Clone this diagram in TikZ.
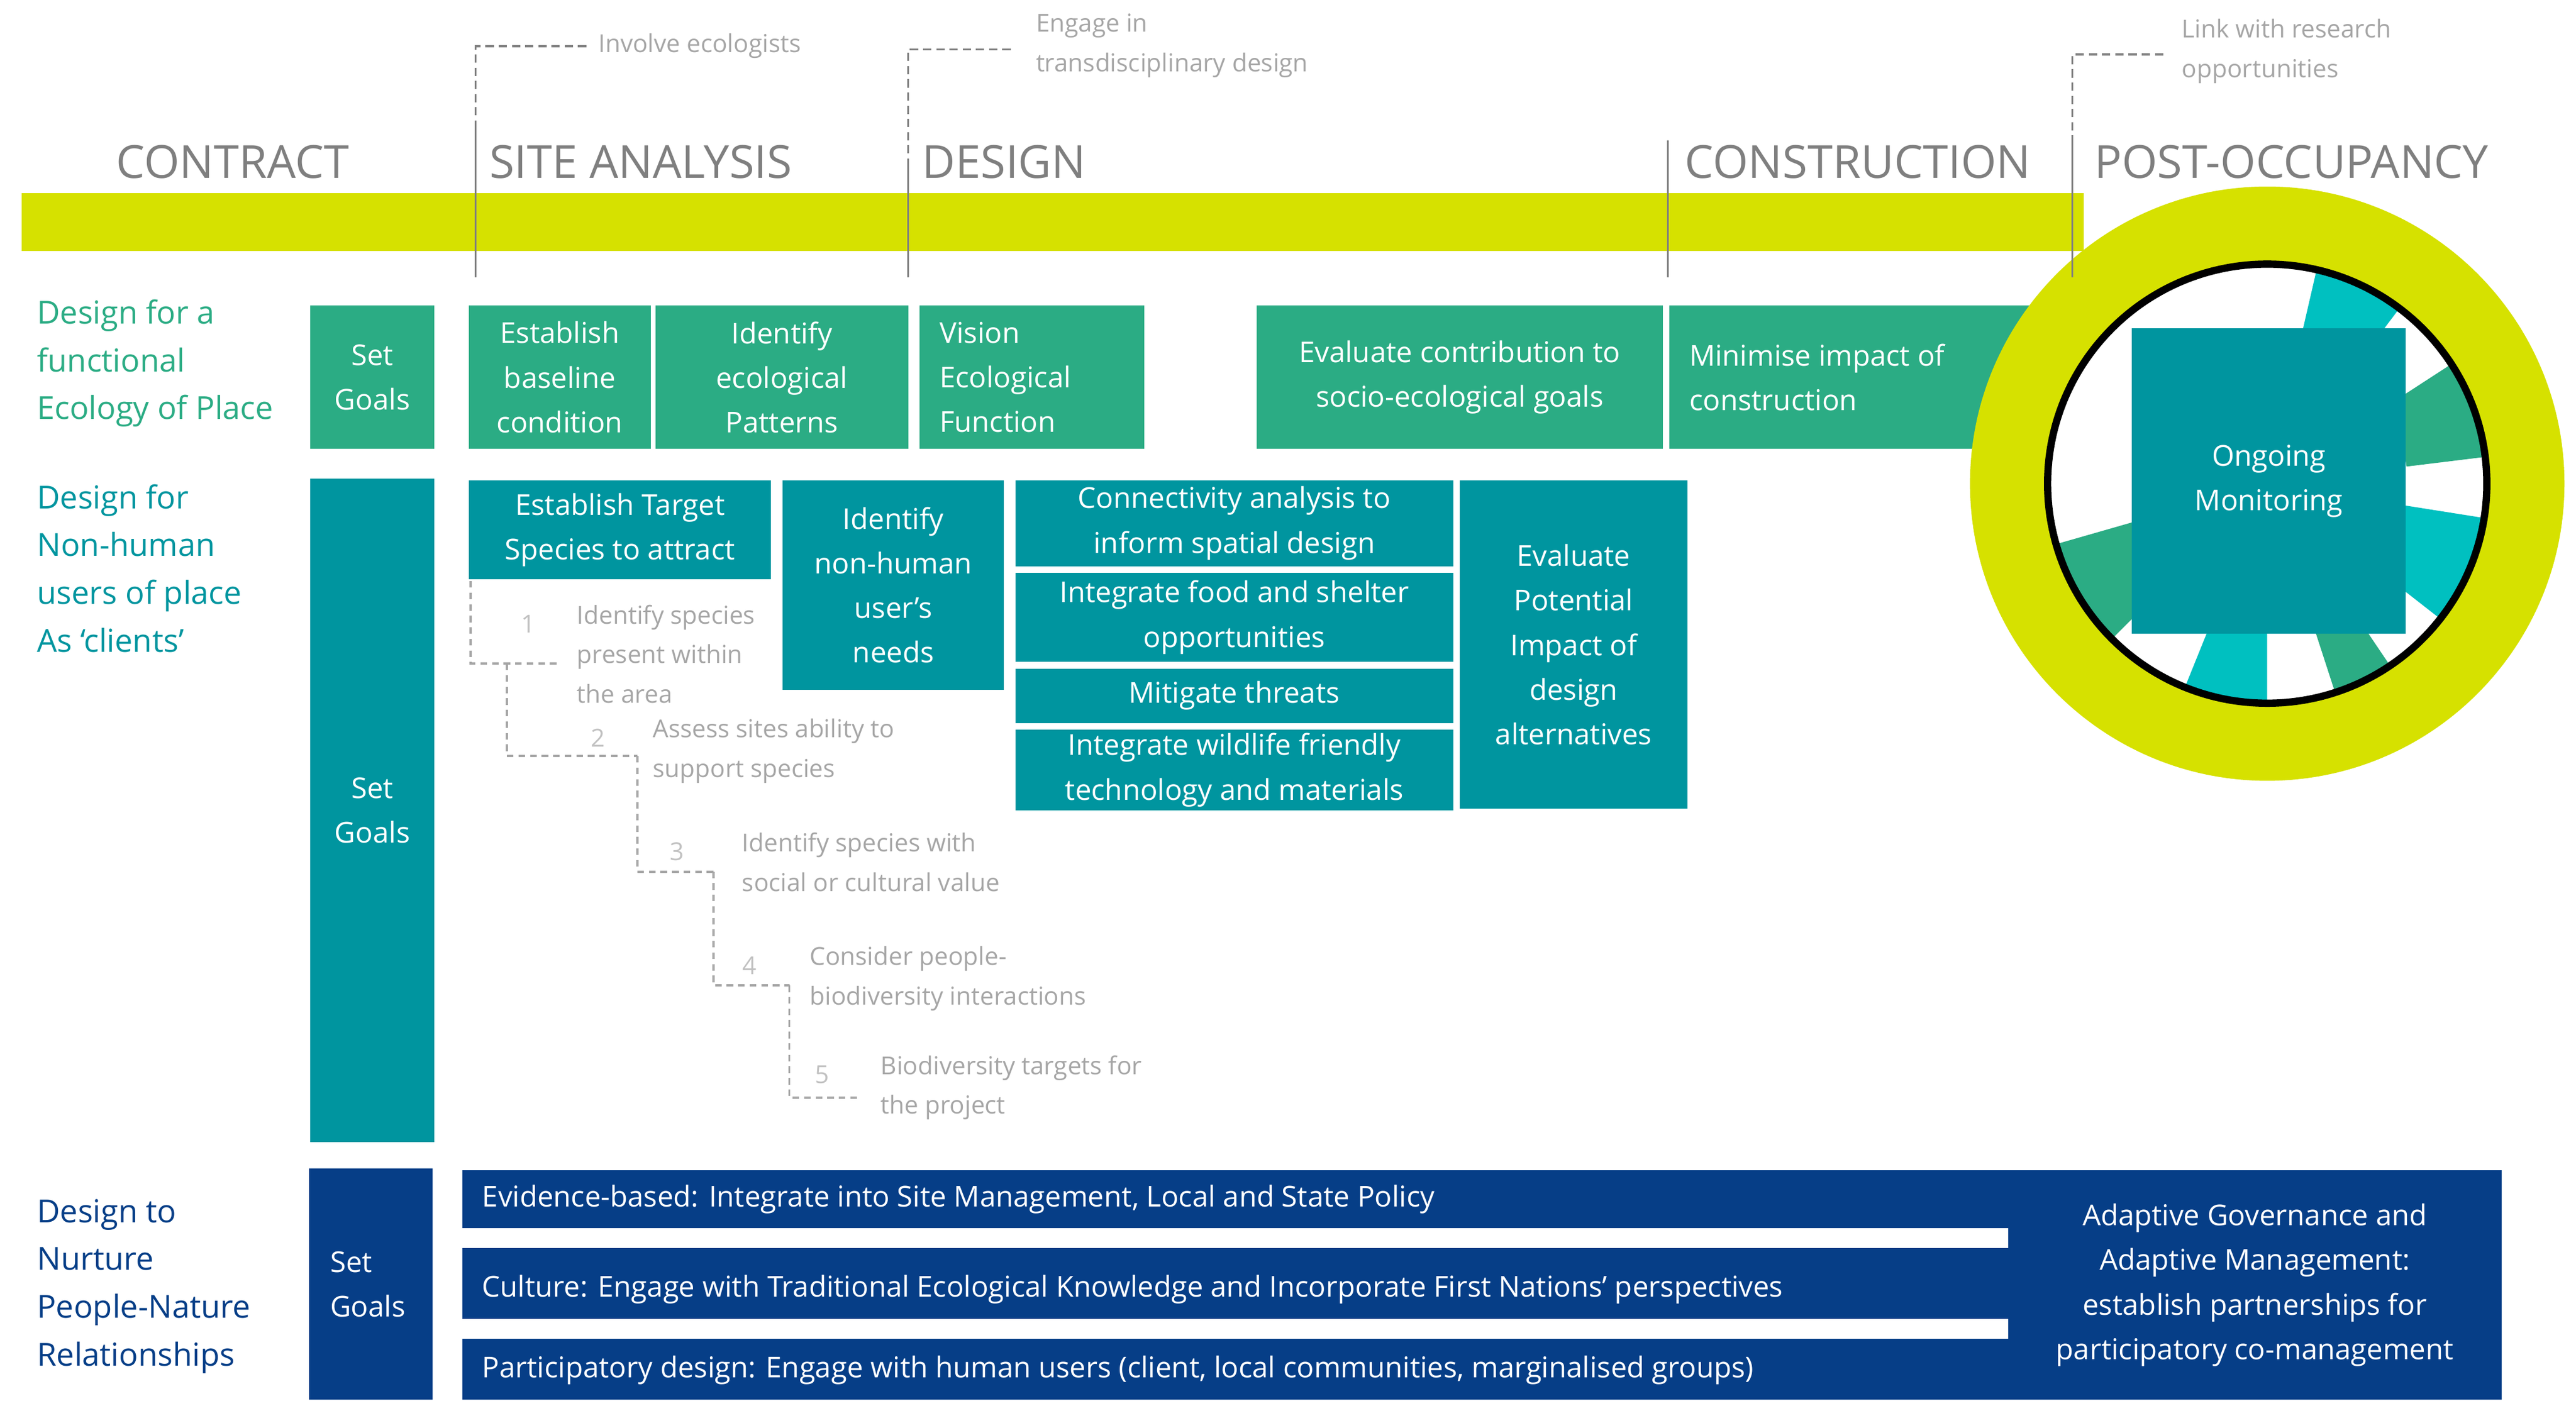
\documentclass[tikz,border=0pt]{standalone}
\usepackage{fontspec}
\setmainfont{Open Sans}
\usetikzlibrary{calc}
\definecolor{lime}{HTML}{D6E100}
\definecolor{grn}{HTML}{2BAC84}
\definecolor{teal}{HTML}{00959F}
\definecolor{navy}{HTML}{063E87}
\definecolor{cyn}{HTML}{00C0C0}
\definecolor{hgray}{HTML}{7F7F7F}
\definecolor{lgray}{HTML}{A6A6A6}
\newcommand\bx[7]{\node[#6, anchor=north west, minimum width={(#4-#2)*0.5pt}, minimum height={(#5-#3)*0.5pt}] (#1) at (#2,#3) {#7};}
\tikzset{
 box/.style={inner sep=0pt, outer sep=0pt, text=white, align=center, font=\fontsize{8.7}{13.5}\selectfont},
 gbox/.style={box, fill=grn},
 tbox/.style={box, fill=teal},
 nbox/.style={box, fill=navy},
 head/.style={text=hgray, font=\fontsize{13.8}{16}\selectfont, anchor=west, inner sep=0pt},
 note/.style={text=lgray, font=\fontsize{7.5}{12}\selectfont, anchor=north west, align=left, inner sep=0pt},
 num/.style={text=lgray!70, font=\fontsize{7.5}{12}\selectfont, anchor=center, inner sep=0pt},
 lab/.style={font=\fontsize{9.6}{14.5}\selectfont, anchor=north west, align=left, inner sep=0pt},
 sep/.style={draw=hgray, line width=0.6pt},
 dsep/.style={draw=hgray, line width=0.6pt, dash pattern=on 2.5pt off 1.5pt},
 stair/.style={draw=lgray, line width=0.7pt, dash pattern=on 2pt off 1.5pt},
}
\begin{document}
\begin{tikzpicture}[x=0.5pt,y=-0.5pt]
\useasboundingbox (0,0) rectangle (1560,862);
% bar
\fill[lime] (13,117) rectangle (1262,152);
% headers
\node[head, anchor=center] (hc) at (141,98) {CONTRACT};
\node[head] (hs) at (296,98) {SITE ANALYSIS};
\node[head] (hd) at (558,98) {DESIGN};
\node[head] (hco) at (1020,98) {CONSTRUCTION};
\node[head] (hp) at (1268,98) {POST-OCCUPANCY};
% row 1
\node[lab, text=grn] (l1) at (22,181) {Design for a\\functional\\Ecology of Place};
\bx{g1}{188}{185}{263}{272}{gbox}{Set\\Goals}
\bx{g2}{284}{185}{394}{272}{gbox}{Establish\\baseline\\condition}
\bx{g3}{397}{185}{550}{272}{gbox}{Identify\\ecological\\Patterns}
\bx{g4}{557}{185}{693}{272}{gbox}{}
\node[box, anchor=west, align=left] (g4t) at (569,228.5) {Vision\\Ecological\\Function};
\bx{g5}{761}{185}{1007}{272}{gbox}{Evaluate contribution to\\socio-ecological goals}
\bx{g6}{1011}{185}{1235}{272}{gbox}{}
\node[box, anchor=west, align=left] (g6t) at (1023,228.5) {Minimise impact of\\construction};
% ring
\fill[lime] (1373,293) circle[radius=180];
\fill[white] (1373,293) circle[radius=133];
\foreach \a/\b/\c in {90/112/cyn, 56/72/grn, 9/38/cyn, -33/-7/grn, -77/-53/cyn, 135/164/grn}{
 \fill[\c] ($(1373,293)+(\a:85)$) arc[start angle=\a, end angle=\b, radius=85] -- ($(1373,293)+(\b:133)$) arc[start angle=\b, end angle=\a, radius=133] -- cycle;
}
\draw[black, line width=2.2pt] (1373,293) circle[radius=133];
\bx{om}{1291}{199}{1457}{384}{tbox}{Ongoing\\Monitoring}
% separators
\draw[dsep] (355,28) -- (288,28) -- (288,75);
\draw[sep] (288,75) -- (288,168);
\node[note, anchor=west] (n1) at (362,28) {Involve ecologists};
\draw[dsep] (612,30) -- (550,30) -- (550,100);
\draw[sep] (550,100) -- (550,168);
\node[note] (n2) at (627,8) {Engage in\\transdisciplinary design};
\draw[sep] (1010,85) -- (1010,168);
\draw[dsep] (1310,33) -- (1255,33) -- (1255,85);
\draw[sep] (1255,85) -- (1255,168);
\node[note] (n3) at (1321,11) {Link with research\\opportunities};
% row 2
\node[lab, text=teal] (l2) at (22,293) {Design for\\Non-human\\users of place\\As ‘clients’};
\bx{t1}{188}{290}{263}{692}{tbox}{Set\\Goals}
\bx{t2}{284}{291}{467}{351}{tbox}{Establish Target\\Species to attract}
\bx{t3}{474}{291}{608}{418}{tbox}{Identify\\non-human\\user’s\\needs}
\bx{t4}{615}{291}{880}{343}{tbox}{Connectivity analysis to\\inform spatial design}
\bx{t5}{615}{347}{880}{401}{tbox}{Integrate food and shelter\\opportunities}
\bx{t6}{615}{405}{880}{438}{tbox}{Mitigate threats}
\bx{t7}{615}{442}{880}{491}{tbox}{Integrate wildlife friendly\\technology and materials}
\bx{t8}{884}{291}{1022}{490}{tbox}{Evaluate\\Potential\\Impact of\\design\\alternatives}
% staircase
\draw[stair] (285,352) -- (285,402) -- (337,402);
\draw[stair] (307,402) -- (307,458) -- (386,458);
\draw[stair] (386,458) -- (386,528) -- (432,528);
\draw[stair] (432,528) -- (432,597) -- (478,597);
\draw[stair] (478,597) -- (478,665) -- (521,665);
\node[num] (k1) at (320,378) {1};
\node[note] (s1) at (349,366) {Identify species\\present within\\the area};
\node[num] (k2) at (362,447) {2};
\node[note] (s2) at (395,435) {Assess sites ability to\\support species};
\node[num] (k3) at (410,516) {3};
\node[note] (s3) at (449,504) {Identify species with\\social or cultural value};
\node[num] (k4) at (454,585) {4};
\node[note] (s4) at (490,573) {Consider people-\\biodiversity interactions};
\node[num] (k5) at (498,651) {5};
\node[note] (s5) at (533,639) {Biodiversity targets for\\the project};
% row 3
\node[lab, text=navy] (l3) at (22,726) {Design to\\Nurture\\People-Nature\\Relationships};
\bx{n0}{187}{708}{262}{848}{nbox}{}
\node[box, anchor=west, align=left] (n0t) at (200,778) {Set\\Goals};
\bx{b1}{280}{709}{1217}{744}{nbox}{}
\bx{b2}{280}{756}{1217}{799}{nbox}{}
\bx{b3}{280}{811}{1217}{848}{nbox}{}
\bx{b4}{1216}{709}{1515}{848}{nbox}{Adaptive Governance and\\Adaptive Management:\\establish partnerships for\\participatory co-management}
\node[box, anchor=west] (b1t) at (292,726.5) {Evidence-based: Integrate into Site Management, Local and State Policy};
\node[box, anchor=west] (b2t) at (292,781) {Culture: Engage with Traditional Ecological Knowledge and Incorporate First Nations’ perspectives};
\node[box, anchor=west] (b3t) at (292,830) {Participatory design: Engage with human users (client, local communities, marginalised groups)};
\end{tikzpicture}
\end{document}
